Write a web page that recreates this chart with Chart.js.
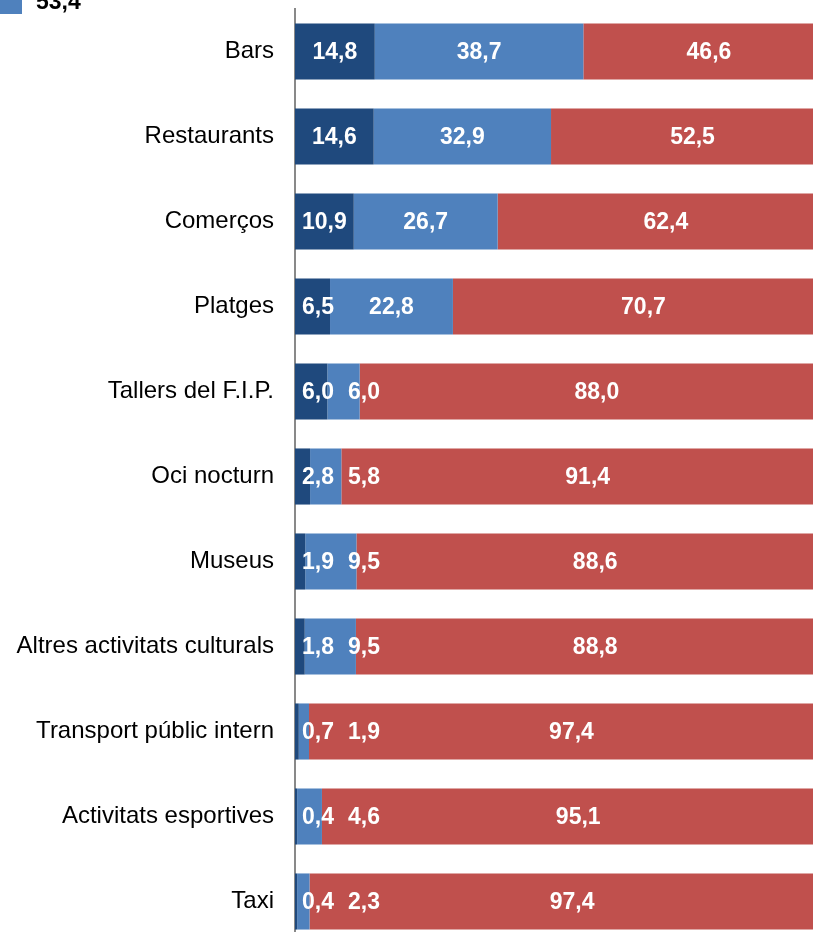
<!DOCTYPE html>
<html>
<head>
<meta charset="utf-8">
<script src="https://cdn.jsdelivr.net/npm/chart.js@4.4.1/dist/chart.umd.min.js"></script>
<style>
  html, body { margin: 0; padding: 0; background: #fff; overflow: hidden; }
  #wrap { position: relative; width: 834px; height: 944px; }
</style>
</head>
<body>
<div id="wrap"><canvas id="mainChart" width="834" height="944"></canvas></div>
<script>
// Dades del gràfic
const categories = ['Bars', 'Restaurants', 'Comerços', 'Platges', 'Tallers del F.I.P.', 'Oci nocturn',
    'Museus', 'Altres activitats culturals', 'Transport públic intern', 'Activitats esportives', 'Taxi'];
const serieFosca = [14.8, 14.6, 10.9, 6.5, 6.0, 2.8, 1.9, 1.8, 0.7, 0.4, 0.4];
const serieClara = [38.7, 32.9, 26.7, 22.8, 6.0, 5.8, 9.5, 9.5, 1.9, 4.6, 2.3];
const serieVermella = [46.6, 52.5, 62.4, 70.7, 88.0, 91.4, 88.6, 88.8, 97.4, 95.1, 97.4];
const legendFragment = '53,4';

const colors = ['#1F497D', '#4F81BD', '#C0504D'];
const fmt = v => v.toFixed(1).replace('.', ',');

// Etiquetes blanques dins les barres (empeses a la dreta si es trepitgen)
const barLabels = {
    id: 'barLabels',
    afterDatasetsDraw(chart) {
        const c = chart.ctx;
        const area = chart.chartArea;
        c.save();
        c.font = 'bold 23px "Liberation Sans", Arial, sans-serif';
        c.fillStyle = '#fff';
        c.textBaseline = 'middle';
        c.textAlign = 'left';
        categories.forEach((cat, i) => {
            let prevRight = area.left + 7 - 14;
            chart.data.datasets.forEach((ds, d) => {
                const el = chart.getDatasetMeta(d).data[i];
                const txt = fmt(ds.data[i]);
                const w = c.measureText(txt).width;
                const center = (el.x + el.base) / 2;
                const left = Math.max(center - w / 2, prevRight + 14);
                c.fillText(txt, left, el.y + 1);
                prevRight = left + w;
            });
        });
        c.restore();
    }
};

// Tros de llegenda retallat a dalt
const legendBit = {
    id: 'legendBit',
    afterDraw(chart) {
        const c = chart.ctx;
        c.save();
        c.fillStyle = colors[1];
        c.fillRect(0, -8, 22, 22);
        c.fillStyle = '#000';
        c.font = 'bold 23px "Liberation Sans", Arial, sans-serif';
        c.textBaseline = 'alphabetic';
        c.fillText(legendFragment, 36, 9);
        c.restore();
    }
};

const ctx = document.getElementById('mainChart').getContext('2d');
new Chart(ctx, {
    type: 'bar',
    data: {
        labels: categories,
        datasets: [
            { data: serieFosca, backgroundColor: colors[0] },
            { data: serieClara, backgroundColor: colors[1] },
            { data: serieVermella, backgroundColor: colors[2] }
        ]
    },
    options: {
        indexAxis: 'y',
        responsive: false,
        animation: false,
        datasets: { bar: { barPercentage: 0.66, categoryPercentage: 1, borderWidth: 0 } },
        layout: { padding: { top: 9, bottom: 0, left: 0, right: 0 } },
        plugins: { legend: { display: false }, tooltip: { enabled: false } },
        scales: {
            x: {
                stacked: true, min: 0, max: 100, display: false
            },
            y: {
                stacked: true,
                afterFit: scale => {
                    scale.width = 295;
                    scale.paddingTop = 0;
                    scale.paddingBottom = 0;
                },
                grid: { display: false, drawTicks: false },
                border: { display: true, color: '#898989', width: 2 },
                ticks: {
                    color: '#000',
                    padding: 21,
                    font: { family: '"Liberation Sans", Arial, sans-serif', size: 24 }
                }
            }
        }
    },
    plugins: [barLabels, legendBit]
});
</script>
</body>
</html>
